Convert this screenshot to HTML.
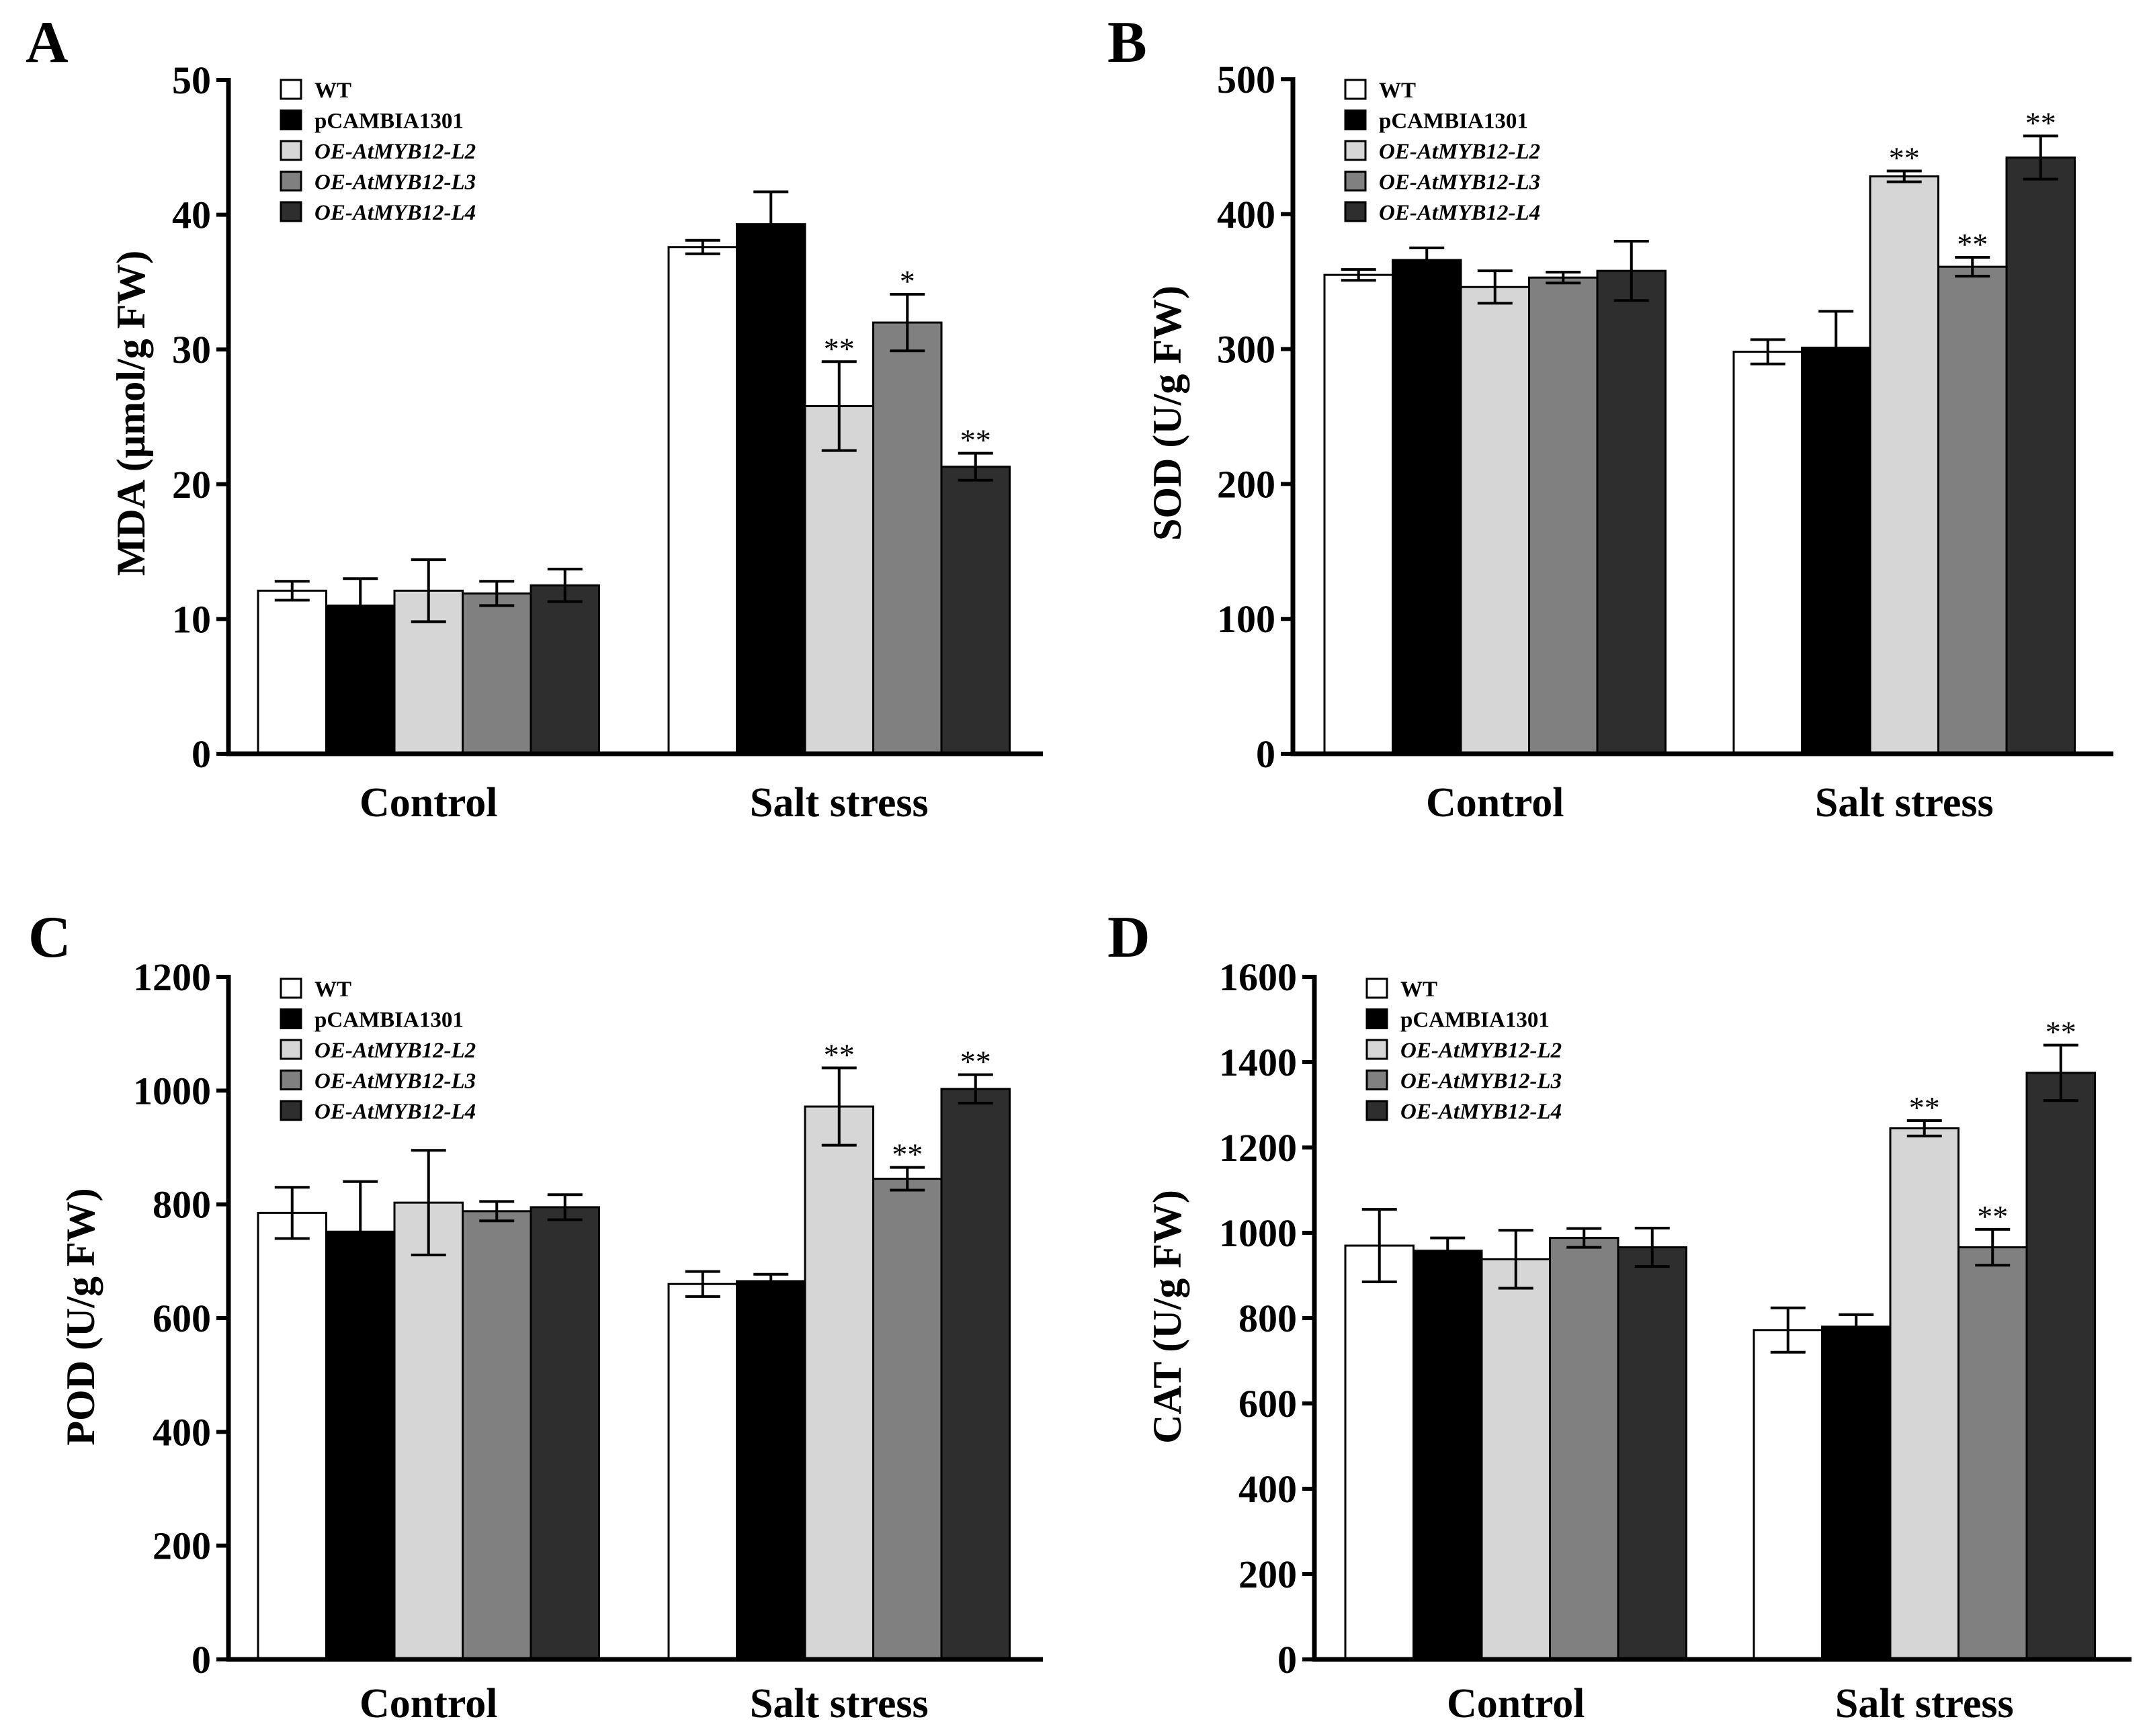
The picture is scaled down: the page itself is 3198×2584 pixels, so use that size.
<!DOCTYPE html>
<html><head><meta charset="utf-8"><style>
html,body{margin:0;padding:0;background:#fff;}
svg{display:block;font-family:"Liberation Serif",serif;}
</style></head><body>
<svg id="fig" width="3198" height="2584" viewBox="0 0 3198 2584" xmlns="http://www.w3.org/2000/svg"></svg>
<script>
const groups = ["Control", "Salt stress"];
const seriesNames = ["WT", "pCAMBIA1301", "OE-AtMYB12-L2", "OE-AtMYB12-L3", "OE-AtMYB12-L4"];
const mdaControl = [12.1, 11.0, 12.1, 11.9, 12.5];
const mdaControlErr = [0.7, 2.0, 2.3, 0.9, 1.2];
const mdaSalt = [37.6, 39.3, 25.8, 32.0, 21.3];
const mdaSaltErr = [0.5, 2.4, 3.3, 2.1, 1.0];
const mdaSig = ["", "", "**", "*", "**"];
const mdaTicks = [0, 10, 20, 30, 40, 50];
const sodControl = [355, 366, 346, 353, 358];
const sodControlErr = [4, 9, 12, 4, 22];
const sodSalt = [298, 301, 428, 361, 442];
const sodSaltErr = [9, 27, 4, 7, 16];
const sodSig = ["", "", "**", "**", "**"];
const sodTicks = [0, 100, 200, 300, 400, 500];
const podControl = [785, 752, 803, 788, 795];
const podControlErr = [45, 88, 92, 17, 22];
const podSalt = [660, 665, 972, 845, 1003];
const podSaltErr = [22, 12, 68, 20, 25];
const podSig = ["", "", "**", "**", "**"];
const podTicks = [0, 200, 400, 600, 800, 1000, 1200];
const catControl = [970, 958, 938, 988, 966];
const catControlErr = [85, 30, 68, 22, 45];
const catSalt = [772, 780, 1245, 966, 1375];
const catSaltErr = [52, 28, 18, 42, 65];
const catSig = ["", "", "**", "**", "**"];
const catTicks = [0, 200, 400, 600, 800, 1000, 1200, 1400, 1600];

const fills = ["#ffffff", "#000000", "#d6d6d6", "#808080", "#2e2e2e"];
const NS = "http://www.w3.org/2000/svg";
const svg = document.getElementById("fig");
function mk(tag, attrs, parent, text) {
  const e = document.createElementNS(NS, tag);
  for (const k in attrs) e.setAttribute(k, attrs[k]);
  if (text !== undefined) e.textContent = text;
  parent.appendChild(e);
  return e;
}

function panel(cfg, ctrl, ctrlErr, salt, saltErr, sig, ticks) {
  const g = mk("g", {}, svg);
  
  
  const yMax = ticks[ticks.length - 1];
  const y = v => cfg.y0 - (v / yMax) * (cfg.y0 - cfg.yTop);
  const L = mk("text", {x: cfg.letterX, y: cfg.letterY, "font-size": 88, "font-weight": "bold"}, g, cfg.letter);
  
  
  const bw = 101.5;
  const groupStarts = [cfg.g0, cfg.g1];
  const vals = [ctrl, salt], errs = [ctrlErr, saltErr];
  for (let gi = 0; gi < 2; gi++) {
    for (let i = 0; i < 5; i++) {
      const x = groupStarts[gi] + i * bw;
      const v = vals[gi][i], e = errs[gi][i];
      const r = mk("rect", {x: x, y: y(v), width: bw, height: cfg.y0 - y(v), fill: fills[i], stroke: "#000", "stroke-width": 3}, g);
      
      
      const cx = x + bw / 2;
      const eb = mk("path", {d: `M${cx},${y(v - e)}V${y(v + e)}M${cx - 26},${y(v + e)}H${cx + 26}M${cx - 26},${y(v - e)}H${cx + 26}`, stroke: "#000", "stroke-width": 4, fill: "none"}, g);
      
      
      if (gi === 1 && sig[i]) {
        const s = mk("text", {x: cx, y: y(v + e) - 4, "font-size": 46, "text-anchor": "middle"}, g, sig[i]);
        
        
      }
    }
    const c = mk("text", {x: groupStarts[gi] + 2.5 * bw, y: cfg.catY, "font-size": 62, "font-weight": "bold", "text-anchor": "middle"}, g, groups[gi]);
    
    
  }
  const ax = mk("path", {d: `M${cfg.ax},${cfg.yTop - 3}V${cfg.y0}H${cfg.axEnd}`, stroke: "#000", "stroke-width": 7, fill: "none"}, g);
  
  
  ticks.forEach(t => {
    const tl = mk("line", {x1: cfg.ax - 18, x2: cfg.ax, y1: y(t), y2: y(t), stroke: "#000", "stroke-width": 6}, g);
    
    
    const tx = mk("text", {x: cfg.ax - 26, y: y(t) + 20, "font-size": 58, "font-weight": "bold", "text-anchor": "end"}, g, String(t));
    
    
  });
  const yt = mk("text", {x: 0, y: 0, "font-size": 60, "font-weight": "bold", "text-anchor": "middle", transform: `translate(${cfg.titleX},${cfg.titleY}) rotate(-90)`}, g, cfg.title);
  
  
  seriesNames.forEach((n, i) => {
    const ry = cfg.legY + i * 45.5;
    const sq = mk("rect", {x: cfg.legX, y: ry - 15, width: 30, height: 28, fill: fills[i], stroke: "#000", "stroke-width": 3}, g);
    
    
    const lt = mk("text", {x: cfg.legX + 50, y: ry + 11, "font-size": 33, "font-weight": "bold", "font-style": i >= 2 ? "italic" : "normal"}, g, n);
    
    
  });
}

panel({letter: "A", letterX: 38, letterY: 92, ax: 340, axEnd: 1552, yTop: 119, y0: 1122, g0: 384, g1: 995, catY: 1215, titleX: 215, titleY: 615, title: "MDA (\u00b5mol/g FW)", legX: 418, legY: 134},
  mdaControl, mdaControlErr, mdaSalt, mdaSaltErr, mdaSig, mdaTicks);
panel({letter: "B", letterX: 1648, letterY: 92, ax: 1924, axEnd: 3145, yTop: 118, y0: 1122, g0: 1971, g1: 2580, catY: 1215, titleX: 1757, titleY: 615, title: "SOD (U/g FW)", legX: 2002, legY: 134},
  sodControl, sodControlErr, sodSalt, sodSaltErr, sodSig, sodTicks);
panel({letter: "C", letterX: 42, letterY: 1424, ax: 340, axEnd: 1552, yTop: 1454, y0: 2470, g0: 384, g1: 995, catY: 2556, titleX: 140, titleY: 1960, title: "POD (U/g FW)", legX: 418, legY: 1472},
  podControl, podControlErr, podSalt, podSaltErr, podSig, podTicks);
panel({letter: "D", letterX: 1648, letterY: 1424, ax: 1956, axEnd: 3172, yTop: 1454, y0: 2470, g0: 2002, g1: 2610, catY: 2556, titleX: 1757, titleY: 1960, title: "CAT (U/g FW)", legX: 2034, legY: 1472},
  catControl, catControlErr, catSalt, catSaltErr, catSig, catTicks);
</script>
</body></html>
